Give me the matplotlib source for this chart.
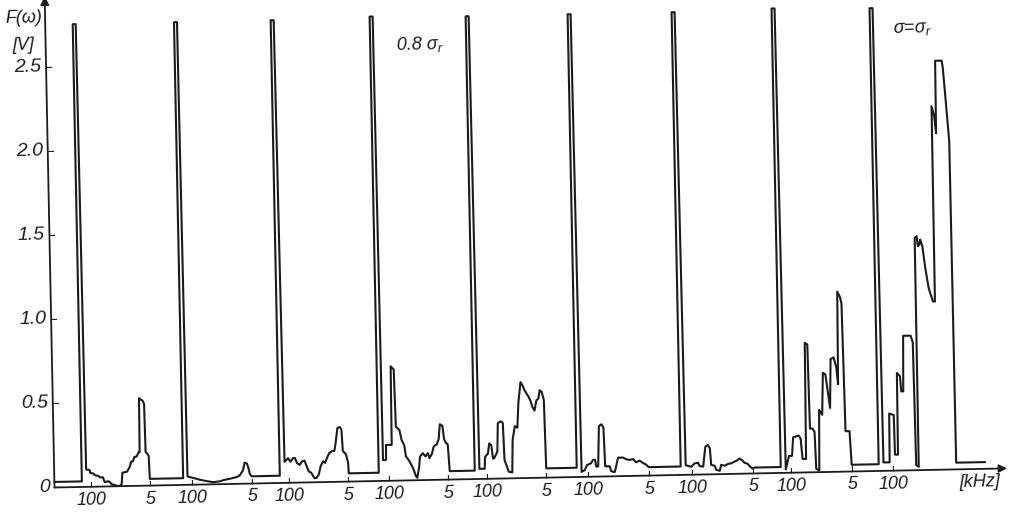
import matplotlib
matplotlib.use("Agg")
import matplotlib.pyplot as plt
import numpy as np
from matplotlib.transforms import Affine2D
from mpl_toolkits.axisartist import floating_axes
from mpl_toolkits.axisartist.grid_finder import FixedLocator, DictFormatter

plt.rcParams['font.family'] = ['Liberation Sans Narrow', 'Liberation Sans', 'DejaVu Sans']
plt.rcParams['mathtext.fontset'] = 'custom'
plt.rcParams['mathtext.it'] = 'Liberation Sans:italic'
plt.rcParams['mathtext.rm'] = 'Liberation Sans:italic'

# ---------------- data ----------------
# positions along the composite frequency axis of the nine spectra
tick_100 = [37.0, 138.0, 234.5, 334.5, 432.5, 533.5, 637.5, 736.5, 838.5]
tick_5 = [96.0, 198.0, 293.5, 393.5, 491.5, 594.5, 698.5, 797.5]

# zero-frequency (DC) spike at the start of every spectrum
spike_at = [27.5, 128.8, 225.5, 324.5, 420.5, 522.5, 626.5, 726.5, 824.5]
spike_top = [2.75, 2.75, 2.75, 2.76, 2.75, 2.75, 2.75, 2.76, 2.75]
lead_level = 0.033
trace_end = 931.0

y_ticks = [0.0, 0.5, 1.0, 1.5, 2.0, 2.5]
y_labels = ["0", "0.5", "1.0", "1.5", "2.0", "2.5"]

p1_x = [32.0, 35.5, 36.0, 39.5, 40.5, 44.0, 45.5, 48.5, 50.5, 53.8, 55.5, 57.2, 60.5, 62.2, 65.5, 67.2,
        68.2, 72.8, 75.5, 77.2, 78.8, 80.5, 82.8, 84.8, 85.8, 86.3, 89.8, 91.2, 91.8, 93.8, 94.8, 95.5]
p1_y = [0.103, 0.100, 0.082, 0.078, 0.068, 0.064, 0.055, 0.055, 0.025, 0.031, 0.025, 0.012, 0.008, 0.002,
        0.002, 0.011, 0.080, 0.085, 0.112, 0.145, 0.145, 0.172, 0.175, 0.199, 0.199, 0.520, 0.505, 0.487,
        0.200, 0.187, 0.175, 0.040]

p2_x = [133.2, 135.5, 145.5, 152.0, 158.8, 165.5, 170.0, 175.5, 182.2, 185.5, 188.8, 190.5, 192.8,
        194.2, 195.5, 197.2]
p2_y = [0.050, 0.046, 0.029, 0.020, 0.013, 0.017, 0.025, 0.031, 0.040, 0.050, 0.080, 0.125, 0.120,
        0.095, 0.059, 0.043]

p3_x = [230.5, 234.0, 236.5, 239.0, 241.0, 243.0, 245.5, 248.0, 250.5, 252.0, 254.5, 257.0, 260.0,
        262.0, 264.5, 266.5, 269.0, 271.0, 273.0, 275.5, 278.0, 280.5, 282.0, 284.0, 286.5, 288.0,
        289.0, 292.0, 294.0, 294.5]
p3_y = [0.125, 0.146, 0.125, 0.146, 0.146, 0.116, 0.105, 0.125, 0.130, 0.105, 0.066, 0.057, 0.025,
        0.025, 0.045, 0.094, 0.124, 0.114, 0.143, 0.173, 0.183, 0.183, 0.232, 0.320, 0.325, 0.310,
        0.183, 0.163, 0.114, 0.049]

p4_x = [329.0, 332.0, 332.3, 338.0, 338.5, 341.5, 342.5, 346.0, 348.0, 350.5, 352.0, 355.5, 358.0,
        360.0, 361.5, 363.0, 365.0, 366.0, 369.0, 371.5, 374.0, 375.5, 378.0, 380.0, 383.0, 385.0,
        386.5, 389.0, 390.5, 392.0, 394.0, 395.5]
p4_y = [0.124, 0.124, 0.213, 0.213, 0.680, 0.660, 0.320, 0.300, 0.240, 0.210, 0.143, 0.113, 0.083,
        0.054, 0.025, 0.015, 0.080, 0.140, 0.160, 0.140, 0.160, 0.130, 0.155, 0.200, 0.210, 0.240,
        0.330, 0.320, 0.240, 0.220, 0.210, 0.050]

p5_x = [425.2, 430.5, 431.0, 434.0, 435.5, 437.5, 439.0, 440.0, 443.5, 444.5, 447.5, 449.5, 450.5,
        454.5, 458.0, 459.0, 461.5, 464.0, 465.5, 468.0, 470.0, 472.0, 474.0, 476.0, 477.5, 479.5,
        481.5, 483.5, 485.5, 487.0, 489.0, 491.0, 492.0]
p5_y = [0.060, 0.060, 0.130, 0.150, 0.210, 0.200, 0.120, 0.120, 0.160, 0.330, 0.340, 0.330, 0.110,
        0.040, 0.035, 0.230, 0.310, 0.300, 0.450, 0.570, 0.550, 0.520, 0.500, 0.480, 0.460, 0.420,
        0.400, 0.460, 0.470, 0.520, 0.510, 0.460, 0.055]

p6_x = [527.3, 530.5, 533.0, 537.0, 539.0, 541.0, 542.0, 544.0, 545.5, 548.0, 550.0, 551.0, 555.5,
        557.0, 560.5, 562.0, 564.0, 569.0, 572.0, 575.5, 579.0, 582.0, 585.5, 589.0, 592.0, 594.5]
p6_y = [0.030, 0.040, 0.070, 0.080, 0.100, 0.100, 0.060, 0.060, 0.300, 0.310, 0.290, 0.060, 0.060,
        0.030, 0.025, 0.060, 0.110, 0.110, 0.100, 0.095, 0.100, 0.080, 0.090, 0.075, 0.065, 0.050]

p7_x = [631.5, 637.0, 640.5, 644.0, 645.5, 649.0, 651.5, 654.0, 656.0, 657.0, 660.5, 662.0, 665.5,
        667.0, 670.5, 674.0, 677.0, 679.5, 683.0, 685.5, 688.0, 690.5, 693.0, 695.5, 698.0, 700.5]
p7_y = [0.057, 0.047, 0.067, 0.070, 0.050, 0.047, 0.165, 0.175, 0.155, 0.056, 0.050, 0.026, 0.020,
        0.055, 0.050, 0.060, 0.063, 0.070, 0.080, 0.090, 0.080, 0.064, 0.060, 0.044, 0.030, 0.035]

p8_x = [731.5, 735.0, 738.0, 739.5, 745.0, 747.0, 748.5, 752.0, 753.0, 755.5, 756.5, 759.0, 761.0,
        762.0, 765.0, 766.0, 769.0, 770.5, 773.0, 775.0, 777.0, 778.5, 781.5, 784.0, 785.5, 786.5,
        789.0, 790.5, 792.0, 796.0, 797.5]
p8_y = [0.020, 0.100, 0.100, 0.210, 0.220, 0.200, 0.080, 0.080, 0.770, 0.760, 0.260, 0.260, 0.240,
        0.020, 0.010, 0.370, 0.340, 0.590, 0.580, 0.480, 0.380, 0.670, 0.680, 0.620, 0.520, 1.070,
        1.040, 1.000, 0.240, 0.240, 0.040]

p9_x = [829.3, 835.5, 836.0, 840.5, 841.0, 844.0, 844.5, 847.5, 848.5, 850.5, 851.5, 859.0, 861.0,
        862.0, 864.5, 865.0, 867.0, 868.0, 869.5, 870.5, 872.5, 875.0, 878.0, 882.0, 884.0, 884.5,
        887.0, 888.5, 889.0, 895.5, 896.5, 901.5, 902.0]
p9_y = [0.050, 0.050, 0.340, 0.330, 0.095, 0.095, 0.580, 0.560, 0.470, 0.470, 0.800, 0.800, 0.760,
        0.030, 0.020, 1.380, 1.390, 1.330, 1.340, 1.370, 1.330, 1.200, 1.080, 1.000, 1.000, 2.160,
        2.100, 2.000, 2.430, 2.430, 2.390, 1.950, 0.040]

panels_x = [p1_x, p2_x, p3_x, p4_x, p5_x, p6_x, p7_x, p8_x, p9_x]
panels_y = [p1_y, p2_y, p3_y, p4_y, p5_y, p6_y, p7_y, p8_y, p9_y]

# ---------------- assemble the single continuous trace ----------------
SPIKE_W = 3.0
xs, ys = [0.0], [lead_level]
level = lead_level
for k in range(len(spike_at)):
    xs += [spike_at[k], spike_at[k], spike_at[k] + SPIKE_W]
    ys += [level, spike_top[k], spike_top[k]]
    xs += panels_x[k]
    ys += panels_y[k]
    level = panels_y[k][-1]
    nxt = spike_at[k + 1] if k + 1 < len(spike_at) else trace_end
    xs.append(nxt)
    ys.append(level)

# ---------------- figure with slightly tilted axes ----------------
W_PX, H_PX = 1010, 512
ORIGIN = (54.5, 24.5)          # pixel position of the axes origin
PX_PER_V = 168.3               # vertical scale, pixels per volt
TILT = 1.15                    # degrees
U_END, V_END = 941.0, 2.845

fig = plt.figure(figsize=(W_PX / 100, H_PX / 100), dpi=100)
fig.patch.set_facecolor("white")

tr = Affine2D().scale(1.0, PX_PER_V).rotate_deg(TILT)

x_pos = tick_100 + tick_5
x_lab = ["100"] * len(tick_100) + ["5"] * len(tick_5)

grid_helper = floating_axes.GridHelperCurveLinear(
    tr, extremes=(0.0, U_END, 0.0, V_END),
    grid_locator1=FixedLocator(x_pos),
    tick_formatter1=DictFormatter(dict(zip(x_pos, x_lab))),
    grid_locator2=FixedLocator(y_ticks),
    tick_formatter2=DictFormatter(dict(zip(y_ticks, y_labels))),
)

corners = tr.transform([(0, 0), (U_END, 0), (0, V_END), (U_END, V_END)])
(bx0, by0), (bx1, by1) = corners.min(axis=0), corners.max(axis=0)
cx, cy = (bx0 + bx1) / 2, (by0 + by1) / 2
bw, bh = (bx1 - bx0) * 1.02, (by1 - by0) * 1.02
rect = [(ORIGIN[0] + cx - bw / 2) / W_PX, (ORIGIN[1] + cy - bh / 2) / H_PX, bw / W_PX, bh / H_PX]

ax = fig.add_axes(rect, axes_class=floating_axes.FloatingAxes, grid_helper=grid_helper)
ax.patch.set_visible(False)
aux = ax.get_aux_axes(tr)

INK = "#1b1b1b"
for side in ("top", "right"):
    ax.axis[side].set_visible(False)

for name, pad, fs in (("bottom", 3.5, 13), ("left", 3.2, 14)):
    a = ax.axis[name]
    a.set_axisline_style("-|>", size=0.9)
    a.line.set_linewidth(1.3)
    a.line.set_color(INK)
    a.major_ticks.set_ticksize(4)
    a.major_ticks.set_linewidth(1.2)
    a.major_ticks.set_color(INK)
    a.major_ticklabels.set_fontsize(fs)
    a.major_ticklabels.set_fontstyle("italic")
    a.major_ticklabels.set_color(INK)
    a.major_ticklabels.set_pad(pad)

aux.plot(xs, ys, color=INK, lw=1.5, solid_joinstyle="round", solid_capstyle="round")

txt = dict(color=INK, fontstyle="italic", ha="center", va="center", rotation=TILT)
aux.text(-21, 2.79, "F(ω)", fontsize=13, **txt)
aux.text(-22, 2.63, "[V]", fontsize=13, **txt)
aux.text(374, 2.59, "0.8 σ$_r$", fontsize=13, **txt)
aux.text(867, 2.62, "σ=σ$_r$", fontsize=13, **txt)
aux.text(925, -0.08, "[kHz]", fontsize=13, **txt)

fig.savefig("out.png", dpi=100, facecolor="white")
